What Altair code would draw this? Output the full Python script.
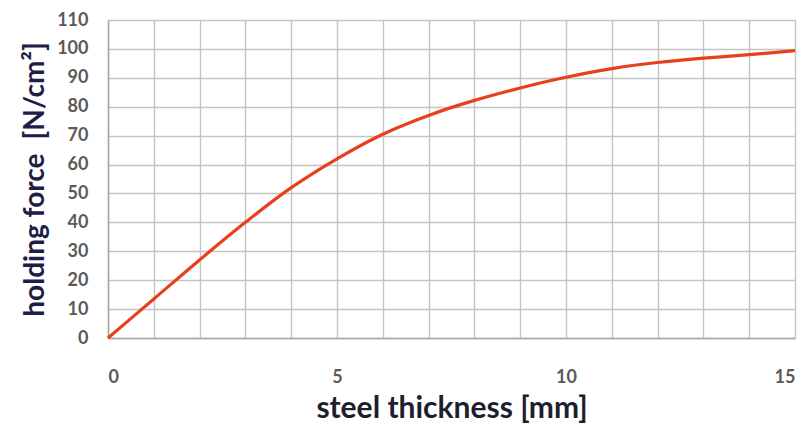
import altair as alt
import pandas as pd

thickness = [0, 1, 2, 3, 4, 5, 6, 7, 8, 9, 10, 11, 12, 13, 14, 15]
force = [0, 13.5, 27, 40, 52, 62, 70.5, 77, 82.2, 86.5, 90.2, 93.2, 95.3, 96.8, 98.0, 99.4]

df = pd.DataFrame({"t": thickness, "f": force})

x_ticks = list(range(0, 16))
y_ticks = list(range(0, 111, 10))

line = alt.Chart(df).mark_line(
    color="#e8401c", strokeWidth=3.2, interpolate="catmull-rom"
).encode(
    x=alt.X("t:Q",
            scale=alt.Scale(domain=[0, 15], nice=False, zero=True),
            axis=alt.Axis(
                values=x_ticks,
                labelExpr="datum.value % 5 === 0 ? datum.label : ''",
                title="steel thickness [mm]",
                titleFont="Lato",
                titleFontSize=30,
                titleFontWeight="bold",
                titleColor="#1e1e2e",
                titlePadding=7,
                labelFont="Lato",
                labelFontSize=18,
                labelFontWeight="bold",
                labelColor="#5a5a5a",
                labelPadding=30,
                ticks=False,
                domainColor="#a8a8a8",
                domainWidth=1.5,
                gridColor="#c4c4c4",
                gridWidth=1.4,
            )),
    y=alt.Y("f:Q",
            scale=alt.Scale(domain=[0, 110], nice=False),
            axis=alt.Axis(
                values=y_ticks,
                title="holding force\u2002[N/cm²]",
                titleFont="Lato",
                titleFontSize=28,
                titleFontWeight="bold",
                titleColor="#1c2046",
                titlePadding=7,
                labelFont="Lato",
                labelFontSize=18,
                labelFontWeight="bold",
                labelColor="#5a5a5a",
                labelPadding=20,
                ticks=False,
                domainColor="#a8a8a8",
                domainWidth=1.5,
                gridColor="#c4c4c4",
                gridWidth=1.4,
            )),
)

chart = line.properties(
    width=687,
    height=318,
    autosize=alt.AutoSizeParams(type="none"),
    padding={"left": 100, "top": 12, "right": 6, "bottom": 90},
).configure_view(
    stroke="#c4c4c4", strokeWidth=1.4
).configure(background="white")

chart.save("out.html", embed_options={"renderer": "svg", "actions": False})
